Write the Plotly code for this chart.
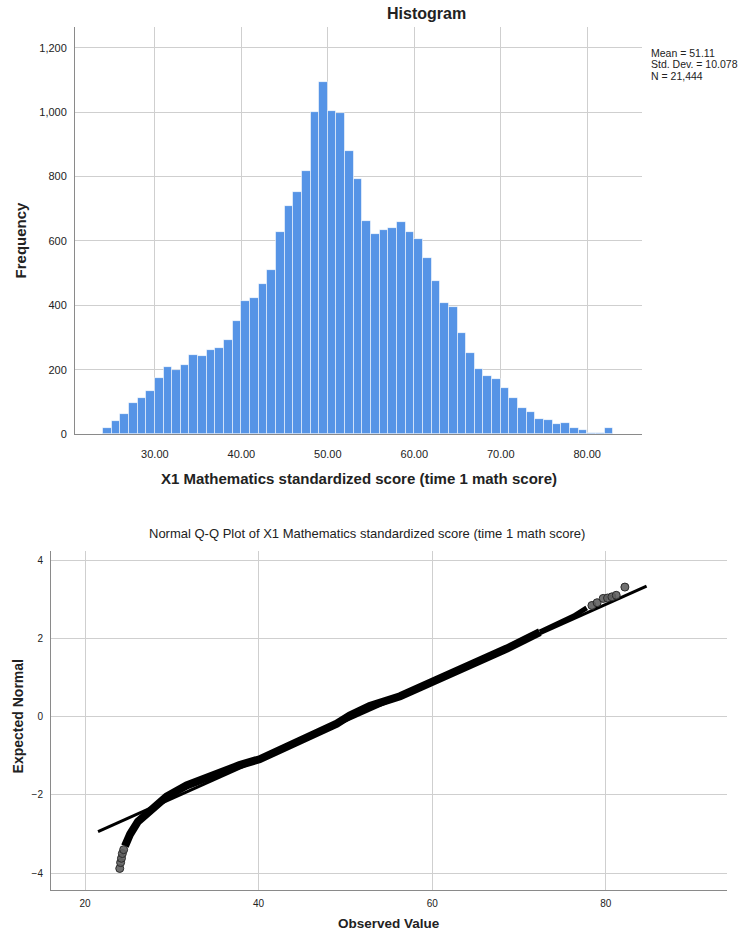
import plotly.graph_objects as go

# ---- Histogram data: X1 mathematics standardized score, bins of width 1 ----
bin_start = [24, 25, 26, 27, 28, 29, 30, 31, 32, 33, 34, 35, 36, 37, 38, 39,
             40, 41, 42, 43, 44, 45, 46, 47, 48, 49, 50, 51, 52, 53, 54, 55,
             56, 57, 58, 59, 60, 61, 62, 63, 64, 65, 66, 67, 68, 69, 70, 71,
             72, 73, 74, 75, 76, 77, 78, 79, 80, 81, 82]
frequency = [18, 41, 62, 95, 111, 135, 174, 207, 200, 213, 247, 242, 260, 267, 293, 351,
             413, 424, 465, 509, 627, 707, 751, 816, 999, 1093, 1002, 997, 880, 793, 662, 620,
             633, 639, 660, 628, 606, 548, 474, 408, 395, 313, 253, 203, 180, 171, 144, 113,
             81, 70, 47, 45, 32, 33, 20, 12, 4, 3, 19]

mean_score = 51.11
sd_score = 10.078
n_cases = 21444

# ---- Normal Q-Q plot data (observed value, expected normal) ----
qq_band_observed = [24.6, 25.2, 26.1, 27.5, 29.4, 31.7, 34.7, 37.8, 40.1, 42.8,
                    46.7, 49.0, 50.5, 52.8, 56.3, 60.0, 64.0, 68.6, 72.4]
qq_band_expected = [-3.31, -3.00, -2.68, -2.38, -2.04, -1.76, -1.49, -1.24, -1.09, -0.81,
                    -0.43, -0.18, 0.03, 0.27, 0.52, 0.88, 1.32, 1.74, 2.16]
qq_upper_observed = [72.4, 76.3, 77.8]
qq_upper_expected = [2.16, 2.57, 2.78]
qq_tail_observed = [24.0, 24.1, 24.2, 24.3, 24.45, 78.4, 79.0, 79.7, 80.2, 80.7, 81.2, 82.2]
qq_tail_expected = [-3.88, -3.73, -3.62, -3.50, -3.40, 2.84, 2.91, 3.02, 3.03, 3.06, 3.10, 3.31]

# extent of the fitted normal reference line
ref_x = [21.5, 84.7]
ref_y = [(v - mean_score) / sd_score for v in ref_x]

W, H = 741, 940
FONT = "Arial, Liberation Sans, sans-serif"
BAR = "rgb(86,148,230)"
GRID = "#CFCFCF"
AXIS = "#8A8A8A"
TXT = "#222222"


def px(x):
    return x / W


def py(y):
    return 1 - y / H


fig = go.Figure()

fig.add_trace(go.Bar(
    x=bin_start, y=frequency, width=1, offset=0,
    marker=dict(color=BAR, line=dict(color="rgba(255,255,255,0.55)", width=1)),
    xaxis="x", yaxis="y", showlegend=False,
))

fig.add_trace(go.Scatter(
    x=qq_band_observed, y=qq_band_expected, mode="lines",
    line=dict(color="black", width=8),
    xaxis="x2", yaxis="y2", showlegend=False,
))
fig.add_trace(go.Scatter(
    x=qq_upper_observed, y=qq_upper_expected, mode="lines",
    line=dict(color="black", width=5),
    xaxis="x2", yaxis="y2", showlegend=False,
))
fig.add_trace(go.Scatter(
    x=ref_x, y=ref_y, mode="lines",
    line=dict(color="black", width=3),
    xaxis="x2", yaxis="y2", showlegend=False,
))
fig.add_trace(go.Scatter(
    x=qq_tail_observed, y=qq_tail_expected, mode="markers",
    marker=dict(size=8, color="rgba(95,95,95,0.9)", line=dict(color="#2a2a2a", width=1)),
    xaxis="x2", yaxis="y2", showlegend=False,
))

axis_common = dict(
    showgrid=True, gridcolor=GRID, gridwidth=1, zeroline=False,
    showline=True, linecolor=AXIS, linewidth=1, ticks="",
    tickfont=dict(family=FONT, size=11, color=TXT),
)

fig.update_layout(
    width=W, height=H, autosize=False,
    margin=dict(l=0, r=0, t=0, b=0),
    paper_bgcolor="white", plot_bgcolor="white",
    bargap=0,
    xaxis=dict(axis_common, domain=[px(75), px(641.7)], range=[20.76, 86.3],
               tickvals=[30, 40, 50, 60, 70, 80], tickformat=".2f",
               ticklabelstandoff=10, anchor="y"),
    yaxis=dict(axis_common, domain=[py(437), py(27.3)], range=[0, 1264],
               tickvals=[0, 200, 400, 600, 800, 1000, 1200], tickformat=",",
               ticklabelstandoff=5, anchor="x"),
    xaxis2=dict(axis_common, domain=[px(51), px(726.7)], range=[16.08, 93.93],
                tickvals=[20, 40, 60, 80], ticklabelstandoff=4, anchor="y2",
                tickfont=dict(family=FONT, size=10, color=TXT)),
    yaxis2=dict(axis_common, domain=[py(895.7), py(555)], range=[-4.43, 4.22],
                tickvals=[-4, -2, 0, 2, 4], ticklabelstandoff=5, anchor="x2",
                tickfont=dict(family=FONT, size=10, color=TXT)),
)

annotations = [
    dict(text="<b>Histogram</b>", x=px(426), y=py(14), font=dict(size=16)),
    dict(text="<b>Frequency</b>", x=px(20), y=py(242), textangle=-90, font=dict(size=15)),
    dict(text="<b>X1 Mathematics standardized score (time 1 math score)</b>",
         x=px(359), y=py(482), font=dict(size=15)),
    dict(text="Normal Q-Q Plot of X1 Mathematics standardized score (time 1 math score)",
         x=px(367), y=py(537), font=dict(size=13)),
    dict(text="<b>Expected Normal</b>", x=px(18), y=py(721), textangle=-90, font=dict(size=14)),
    dict(text="<b>Observed Value</b>", x=px(389), y=py(929), font=dict(size=13.5)),
]
stats = [f"Mean = {mean_score:.2f}", f"Std. Dev. = {sd_score:.3f}", f"N = {n_cases:,}"]
for i, s in enumerate(stats):
    annotations.append(dict(text=s, x=px(649), y=py(53 + 11.5 * i), xanchor="left",
                            font=dict(size=10.5)))

for a in annotations:
    a.setdefault("xanchor", "center")
    a.update(xref="paper", yref="paper", yanchor="middle", showarrow=False)
    a["font"] = dict(family=FONT, color=TXT, **a["font"])

fig.update_layout(annotations=annotations)

fig.write_html("out.html")
